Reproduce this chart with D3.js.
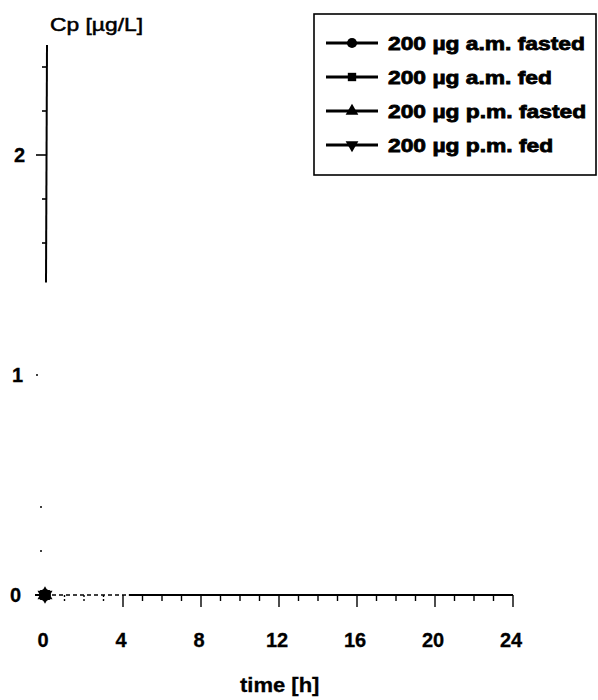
<!DOCTYPE html>
<html>
<head>
<meta charset="utf-8">
<script src="https://cdn.jsdelivr.net/npm/d3@7/dist/d3.min.js"></script>
<style>
  html, body { margin: 0; padding: 0; background: #fff; }
  svg { display: block; }
  text { font-family: "Liberation Sans", Arial, sans-serif; fill: #000; }
</style>
</head>
<body>
<svg id="chart" width="598" height="700"></svg>
<script>
// Plasma concentration, 200 µg dose, four administration conditions
const seriesNames = ["200 µg a.m. fasted", "200 µg a.m. fed", "200 µg p.m. fasted", "200 µg p.m. fed"];
const seriesSymbols = ["circle", "square", "triangleUp", "triangleDown"];
const sampleTimes = [0];
const amFasted = [0];
const amFed = [0];
const pmFasted = [0];
const pmFed = [0];
const seriesValues = [amFasted, amFed, pmFasted, pmFed];

const xTicks = d3.range(0, 25, 1);
const xLabels = [0, 4, 8, 12, 16, 20, 24];
const yTicks = d3.range(0, 2.5001, 0.2).map(v => +v.toFixed(1));
const yLabels = [0, 1, 2];

const svg = d3.select("#chart");
const x = d3.scaleLinear().domain([0, 24]).range([45, 513]);
const y = d3.scaleLinear().domain([0, 2.5]).range([595, 45]);

// widen glyphs to the heavy, wide lettering of the figure
function stretch(sel, k) {
  sel.each(function () {
    const w = this.getComputedTextLength();
    d3.select(this).attr("textLength", w * k).attr("lengthAdjust", "spacingAndGlyphs");
  });
}

// ---- y axis ----
const yAx = svg.append("g");
yAx.append("line")
  .attr("x1", x(0) + 2).attr("x2", x(0) + 1)
  .attr("y1", y(2.5)).attr("y2", y(1.42))
  .attr("stroke", "#000").attr("stroke-width", 2);
yAx.selectAll("line.ytick")
  .data(yTicks.filter(v => v >= 1.5))
  .join("line").attr("class", "ytick")
  .attr("x1", x(0) + 2).attr("x2", v => x(0) + 2 - (yLabels.includes(v) ? 11 : 5))
  .attr("y1", v => y(v)).attr("y2", v => y(v))
  .attr("stroke", "#000").attr("stroke-width", 1.6);
yAx.append("line")
  .attr("x1", x(0)).attr("x2", x(0) - 10)
  .attr("y1", y(0)).attr("y2", y(0))
  .attr("stroke", "#000").attr("stroke-width", 2);
// faint remnants of the lower ticks
yAx.selectAll("circle.ydot")
  .data([1, 0.4, 0.2])
  .join("circle").attr("class", "ydot")
  .attr("cx", v => x(0) - (v === 1 ? 8 : 4))
  .attr("cy", v => y(v))
  .attr("r", 1).attr("fill", "#000");
yAx.selectAll("text.ylab")
  .data(yLabels)
  .join("text").attr("class", "ylab")
  .attr("x", v => 25 - (2 - v) * 2).attr("y", v => y(v) + 7)
  .attr("text-anchor", "end")
  .attr("font-size", 20).attr("font-weight", "bold")
  .attr("stroke", "#000").attr("stroke-width", 0.3)
  .text(v => v);
const yTitle = svg.append("text")
  .attr("x", 50).attr("y", 31)
  .attr("font-size", 19)
  .attr("stroke", "#000").attr("stroke-width", 0.5)
  .text("Cp [µg/L]");
stretch(yTitle, 1.2);

// ---- x axis ----
const xAx = svg.append("g");
xAx.append("line")
  .attr("x1", x(0)).attr("x2", x(4.3))
  .attr("y1", y(0)).attr("y2", y(0))
  .attr("stroke", "#000").attr("stroke-width", 1.6)
  .attr("stroke-dasharray", "4,3");
xAx.append("line")
  .attr("x1", x(4.3)).attr("x2", x(24))
  .attr("y1", y(0)).attr("y2", y(0))
  .attr("stroke", "#000").attr("stroke-width", 2);
xAx.selectAll("line.xtick")
  .data(xTicks.filter(v => v > 0))
  .join("line").attr("class", "xtick")
  .attr("x1", v => x(v)).attr("x2", v => x(v))
  .attr("y1", y(0)).attr("y2", v => y(0) + (v % 4 === 0 ? 12 : 6))
  .attr("stroke", "#000").attr("stroke-width", 1.4)
  .attr("stroke-dasharray", v => v < 4 ? "2,2" : null);
xAx.selectAll("text.xlab")
  .data(xLabels)
  .join("text").attr("class", "xlab")
  .attr("x", v => x(v) - 2).attr("y", 647)
  .attr("text-anchor", "middle")
  .attr("font-size", 20).attr("font-weight", "bold")
  .attr("stroke", "#000").attr("stroke-width", 0.3)
  .text(v => v);
const xTitle = svg.append("text")
  .attr("x", 240).attr("y", 692)
  .attr("font-size", 20).attr("font-weight", "bold")
  .attr("stroke", "#000").attr("stroke-width", 0.3)
  .text("time [h]");
stretch(xTitle, 1.1);

// ---- symbols ----
const symbolType = {
  circle: d3.symbolCircle,
  square: d3.symbolSquare,
  triangleUp: d3.symbolTriangle,
  triangleDown: d3.symbolTriangle
};
function drawSymbol(g, kind, cx, cy, k = 1) {
  const size = (kind === "circle" ? 80 : kind === "square" ? 70 : 70) * k;
  g.append("path")
    .attr("d", d3.symbol(symbolType[kind], size)())
    .attr("transform", `translate(${cx},${cy})` + (kind === "triangleDown" ? " rotate(180)" : ""))
    .attr("fill", "#000");
}

// ---- series ----
const line = d3.line().x(d => x(d[0])).y(d => y(d[1]));
seriesValues.forEach((vals, i) => {
  const pts = sampleTimes.map((t, j) => [t, vals[j]]);
  const g = svg.append("g");
  g.append("path").attr("d", line(pts)).attr("fill", "none")
    .attr("stroke", "#000").attr("stroke-width", 2);
  pts.forEach(p => drawSymbol(g, seriesSymbols[i], x(p[0]), y(p[1]), 1.4));
});

// ---- legend ----
const legend = svg.append("g");
legend.append("rect")
  .attr("x", 314).attr("y", 14).attr("width", 282).attr("height", 161)
  .attr("fill", "#fff").attr("stroke", "#000").attr("stroke-width", 1.6);
const rowY = d3.scalePoint().domain(seriesNames).range([43, 145]);
seriesNames.forEach((name, i) => {
  const cy = rowY(name);
  legend.append("line")
    .attr("x1", 326).attr("x2", 378).attr("y1", cy).attr("y2", cy)
    .attr("stroke", "#000").attr("stroke-width", 3);
  drawSymbol(legend, seriesSymbols[i], 352, cy);
  const t = legend.append("text")
    .attr("x", 388).attr("y", cy + 7)
    .attr("font-size", 19).attr("font-weight", "bold")
    .attr("stroke", "#000").attr("stroke-width", 0.8)
    .text(name);
  stretch(t, 1.2);
});
</script>
</body>
</html>
